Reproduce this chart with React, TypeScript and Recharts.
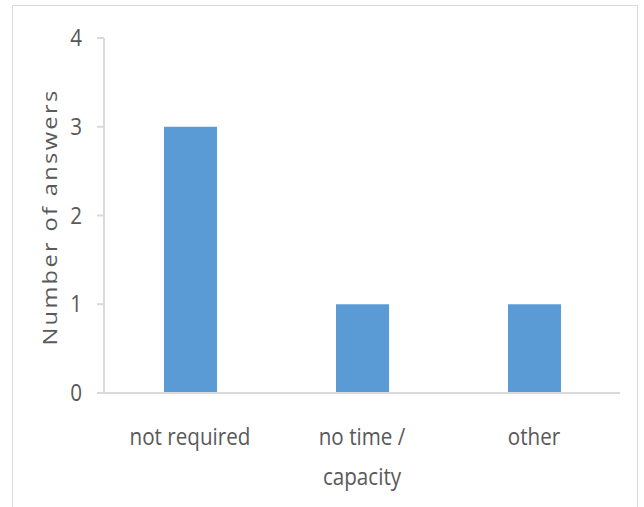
import { Bar, BarChart, XAxis, YAxis } from 'recharts';

const categories = ['not required', 'no time / capacity', 'other'];
const answers = [3, 1, 1];
const yTicks = [0, 1, 2, 3, 4];
// the middle label breaks onto a second line after the slash
const categoryLines: Record<string, string[]> = {
  'not required': ['not required'],
  'no time / capacity': ['no time /', 'capacity'],
  other: ['other'],
};

const data = categories.map((name, i) => ({ name, answers: answers[i] }));

const FONT = '"Open Sans", sans-serif';
const TEXT = '#595959';
const AXIS = '#d9d9d9';
// squeeze the glyphs a little so they read as a condensed face
const SQUEEZE = 0.86;

function CategoryTick({ x, y, payload }: any) {
  const lines = categoryLines[payload.value] ?? [payload.value];
  return (
    <g transform={`translate(${x},${y}) scale(${SQUEEZE},1)`}>
      <text x={0} y={0} textAnchor="middle" fill={TEXT} fontFamily={FONT} fontSize={24}>
        {lines.map((line, i) => (
          <tspan key={line} x={0} dy={i === 0 ? 44 : 40}>
            {line}
          </tspan>
        ))}
      </text>
    </g>
  );
}

function ValueTick({ x, y, payload }: any) {
  return (
    <g transform={`translate(${x},${y}) scale(${SQUEEZE},1)`}>
      <text x={0} y={0} dy={8} textAnchor="end" fill={TEXT} fontFamily={FONT} fontSize={24}>
        {payload.value}
      </text>
    </g>
  );
}

function AxisTitle() {
  // rotated title, stretched along its own reading direction
  return (
    <g transform="translate(57,217) rotate(-90) scale(1.18,1)">
      <text x={0} y={0} textAnchor="middle" fill={TEXT} fontFamily={FONT} fontSize={20} letterSpacing={2}>
        Number of answers
      </text>
    </g>
  );
}

export default function App() {
  return (
    <div style={{ position: 'absolute', left: 0, top: 0, width: 644, height: 507, background: '#fff', overflow: 'hidden' }}>
      <div
        style={{
          position: 'absolute',
          left: 12,
          top: 5,
          width: 626,
          height: 520,
          border: `1px solid ${AXIS}`,
          boxSizing: 'border-box',
        }}
      />
      <div style={{ position: 'absolute', left: 0, top: 0 }}>
        <BarChart width={644} height={507} data={data} margin={{ top: 38, right: 24, bottom: 54, left: 0 }}>
          <XAxis
            dataKey="name"
            height={60}
            tickLine={false}
            axisLine={{ stroke: AXIS, strokeWidth: 2 }}
            tick={<CategoryTick />}
            interval={0}
          />
          <YAxis
            width={104}
            domain={[0, 4]}
            ticks={yTicks}
            tickSize={7}
            tickMargin={15}
            axisLine={{ stroke: AXIS, strokeWidth: 2 }}
            tickLine={{ stroke: AXIS, strokeWidth: 2 }}
            tick={<ValueTick />}
            label={<AxisTitle />}
          />
          <Bar dataKey="answers" fill="#5b9bd5" barSize={53} isAnimationActive={false} />
        </BarChart>
      </div>
    </div>
  );
}
